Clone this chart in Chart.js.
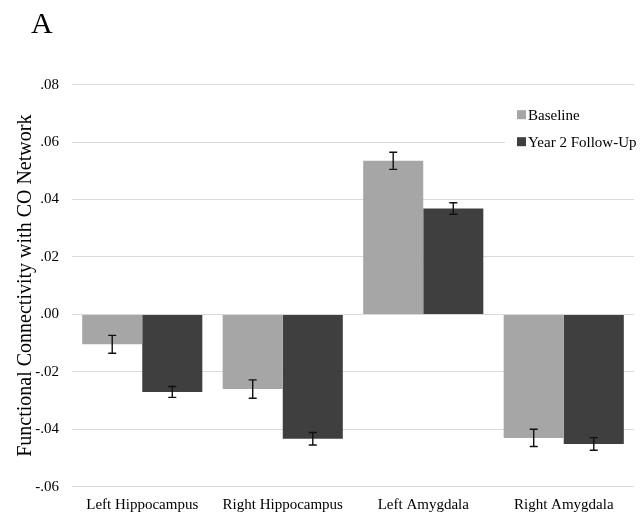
<!DOCTYPE html>
<html>
<head>
<meta charset="utf-8">
<title>Functional Connectivity with CO Network</title>
<script src="https://cdn.jsdelivr.net/npm/chart.js@4.4.1/dist/chart.umd.min.js"></script>
<style>
    html, body { margin: 0; padding: 0; background: #fff; }
    #wrap { width: 641px; height: 515px; position: relative; }
</style>
</head>
<body>
<div id="wrap"><canvas id="chart"></canvas></div>
<script>
// data
const regions = ['Left Hippocampus', 'Right Hippocampus', 'Left Amygdala', 'Right Amygdala'];
const baseline = [-0.0104, -0.0260, 0.0535, -0.0430];
const baselineErr = [0.0031, 0.0032, 0.0030, 0.0030];
const followUp = [-0.0270, -0.0433, 0.0369, -0.0451];
const followUpErr = [0.0019, 0.0022, 0.0020, 0.0022];
const seriesNames = ['Baseline', 'Year 2 Follow-Up'];

const serif = '"Liberation Serif", "Times New Roman", Times, serif';
const colors = ['#a6a6a6', '#3f3f3f'];

// teken error bars, legenda en letter A
const extras = {
    id: 'extras',
    afterDatasetsDraw(chart) {
        const ctx = chart.ctx;
        const y = chart.scales.y;
        const errs = [baselineErr, followUpErr];
        const vals = [baseline, followUp];
        ctx.save();
        ctx.strokeStyle = '#111';
        ctx.lineWidth = 1.4;
        for (let d = 0; d < 2; d++) {
            const meta = chart.getDatasetMeta(d);
            meta.data.forEach((bar, i) => {
                const top = y.getPixelForValue(vals[d][i] + errs[d][i]);
                const bot = y.getPixelForValue(vals[d][i] - errs[d][i]);
                ctx.beginPath();
                ctx.moveTo(bar.x, top);
                ctx.lineTo(bar.x, bot);
                ctx.moveTo(bar.x - 4, top);
                ctx.lineTo(bar.x + 4, top);
                ctx.moveTo(bar.x - 4, bot);
                ctx.lineTo(bar.x + 4, bot);
                ctx.stroke();
            });
        }

        // legenda rechtsboven in het plotvlak
        const area = chart.chartArea;
        const lx = area.right - 117;
        const ly = area.top + 30;
        ctx.fillStyle = '#fff';
        ctx.fillRect(lx - 12, ly - 15, 129, 56);
        ctx.font = '15px ' + serif;
        ctx.textBaseline = 'middle';
        seriesNames.forEach((name, i) => {
            const cy = ly + i * 27;
            ctx.fillStyle = colors[i];
            ctx.fillRect(lx, cy - 4.5, 9, 9);
            ctx.fillStyle = '#000';
            ctx.fillText(name, lx + 11, cy + 1);
        });

        // panel letter
        ctx.font = '30px ' + serif;
        ctx.textBaseline = 'alphabetic';
        ctx.fillStyle = '#000';
        ctx.fillText('A', 31, 33);
        ctx.restore();
    }
};

const config = {
    type: 'bar',
    data: {
        labels: regions,
        datasets: [
            {
                label: seriesNames[0],
                data: baseline,
                backgroundColor: colors[0],
                barPercentage: 1,
                categoryPercentage: 0.855
            },
            {
                label: seriesNames[1],
                data: followUp,
                backgroundColor: colors[1],
                barPercentage: 1,
                categoryPercentage: 0.855
            }
        ]
    },
    options: {
        responsive: true,
        maintainAspectRatio: false,
        animation: false,
        layout: { padding: { top: 84.7, left: 0, right: 7, bottom: 0 } },
        plugins: {
            legend: { display: false },
            tooltip: { enabled: false }
        },
        scales: {
            x: {
                grid: { display: false, drawTicks: false },
                border: { display: false },
                ticks: {
                    color: '#000',
                    padding: 9,
                    font: { family: serif, size: 15 }
                },
                afterFit(scale) { scale.height = 28.3; }
            },
            y: {
                min: -0.06,
                max: 0.08,
                grid: { color: '#d9d9d9', lineWidth: 1, drawTicks: false },
                border: { display: false },
                ticks: {
                    stepSize: 0.02,
                    color: '#000',
                    padding: 13,
                    font: { family: serif, size: 15 },
                    callback: v => (Math.round(v * 100) / 100).toFixed(2).replace('0.', '.')
                },
                title: {
                    display: true,
                    text: 'Functional Connectivity with CO Network',
                    color: '#000',
                    font: { family: serif, size: 20 },
                    padding: { top: 14, bottom: 0 }
                },
                afterFit(scale) { scale.width = 72; }
            }
        }
    },
    plugins: [extras]
};

new Chart(document.getElementById('chart'), config);
</script>
</body>
</html>
